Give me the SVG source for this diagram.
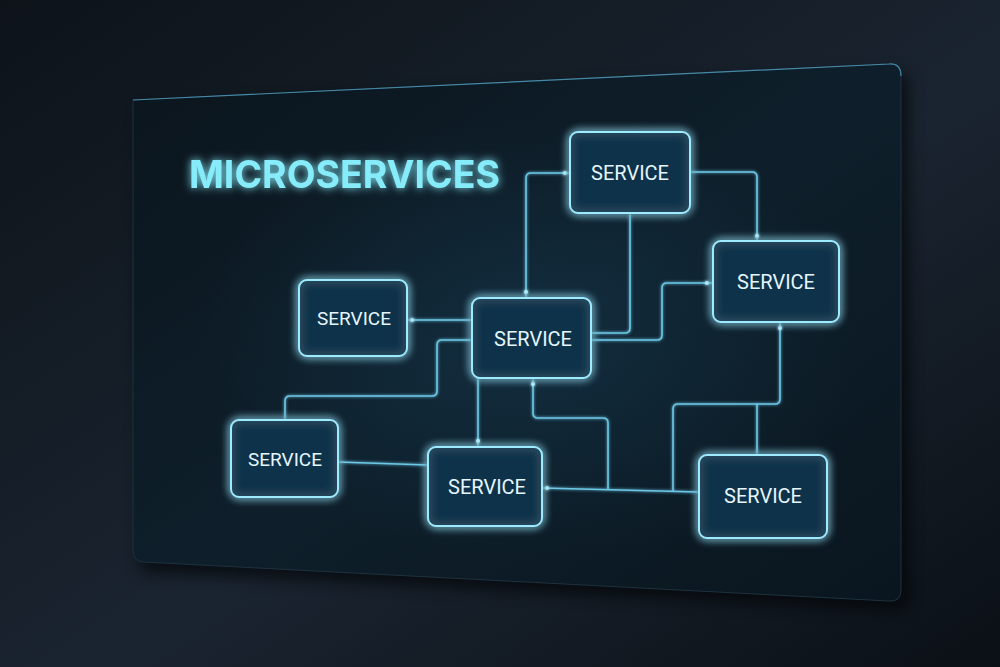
<svg xmlns="http://www.w3.org/2000/svg" width="1000" height="667" viewBox="0 0 1000 667">
  <defs>
    <linearGradient id="bg" x1="0" y1="0" x2="1" y2="1">
      <stop offset="0" stop-color="#0d1319"/>
      <stop offset="0.55" stop-color="#1a2430"/>
      <stop offset="1" stop-color="#0b1016"/>
    </linearGradient>
    <linearGradient id="panel" x1="0" y1="0" x2="1" y2="1">
      <stop offset="0" stop-color="#0b151d"/>
      <stop offset="0.5" stop-color="#0e1f2b"/>
      <stop offset="1" stop-color="#0a161f"/>
    </linearGradient>
    <radialGradient id="halo" cx="0.5" cy="0.5" r="0.5">
      <stop offset="0" stop-color="#1b4a66" stop-opacity="0.35"/>
      <stop offset="1" stop-color="#1b4a66" stop-opacity="0"/>
    </radialGradient>
    <filter id="glow" x="-30%" y="-30%" width="160%" height="160%">
      <feGaussianBlur in="SourceGraphic" stdDeviation="4" result="b"/>
      <feMerge><feMergeNode in="b"/><feMergeNode in="b"/><feMergeNode in="SourceGraphic"/></feMerge>
    </filter>
    <filter id="lglow" filterUnits="userSpaceOnUse" x="0" y="0" width="1000" height="667">
      <feGaussianBlur in="SourceGraphic" stdDeviation="1.5" result="b"/>
      <feMerge><feMergeNode in="b"/><feMergeNode in="SourceGraphic"/></feMerge>
    </filter>
    <filter id="tglow" x="-10%" y="-40%" width="120%" height="180%">
      <feGaussianBlur in="SourceGraphic" stdDeviation="4" result="b"/>
      <feMerge><feMergeNode in="b"/><feMergeNode in="SourceGraphic"/></feMerge>
    </filter>
    <filter id="shadow" x="-10%" y="-10%" width="130%" height="130%">
      <feGaussianBlur stdDeviation="8"/>
    </filter>
  </defs>
  <style>
    .node rect { fill: #11324a; fill-opacity: 0.85; stroke: #9eeaff; stroke-width: 2; filter: url(#glow); }
    .node text { font-family: Roboto, "Liberation Sans", sans-serif; font-size: 20px; fill: #e6f6ff; text-anchor: middle; dominant-baseline: central; }
    .conn path { fill: none; stroke: #6cc8e6; stroke-width: 1.6; stroke-linejoin: round; filter: url(#lglow); }
    .conn circle { fill: #b8f2ff; filter: url(#lglow); }
  </style>

  <rect width="1000" height="667" fill="url(#bg)"/>

  <!-- panel -->
  <g id="panel">
    <path d="M140 108 L893 72 Q908 72 908 86 L908 596 Q908 610 894 609 L146 572 Q140 571 140 560 Z" fill="#000" opacity="0.6" filter="url(#shadow)"/>
    <path d="M133 100 L889 64 Q901 63 901 76 L901 590 Q901 602 889 601 L143 562 Q133 561 133 551 Z" fill="url(#panel)" stroke="#1d3240" stroke-width="1"/>
    <path d="M133 100 L889 64 Q901 63 901 76" fill="none" stroke="#4f9fc0" stroke-width="1.2" opacity="0.8"/>
    <ellipse cx="530" cy="340" rx="330" ry="220" fill="url(#halo)"/>
  </g>

  <g id="title">
    <text x="189" y="188" font-family="Inter, 'Liberation Sans', sans-serif" font-weight="700" font-size="38" fill="#86ecfa" filter="url(#tglow)" textLength="311" lengthAdjust="spacingAndGlyphs">MICROSERVICES</text>
  </g>

  <g id="connectors" class="conn">
    <path d="M570 173 L531 173 Q526 173 526 178 L526 298"/>
    <path d="M630 213 L630 328 Q630 333 625 333 L591 333"/>
    <path d="M690 172 L752 172 Q757 172 757 177 L757 241"/>
    <path d="M591 340 L657 340 Q662 340 662 335 L662 288 Q662 283 667 283 L713 283"/>
    <path d="M407 320 L472 320"/>
    <path d="M472 340 L442 340 Q437 340 437 345 L437 391 Q437 396 432 396 L290 396 Q285 396 285 401 L285 420"/>
    <path d="M338 462 L428 465"/>
    <path d="M478 378 L478 447"/>
    <path d="M533 378 L533 413 Q533 418 538 418 L603 418 Q608 418 608 423 L608 489"/>
    <path d="M542 488 L699 492"/>
    <path d="M780 322 L780 399 Q780 404 775 404 L678 404 Q673 404 673 409 L673 491"/>
    <path d="M757 404 L757 455"/>
    <circle cx="565" cy="173" r="2"/>
    <circle cx="526" cy="292" r="2"/>
    <circle cx="757" cy="236" r="2"/>
    <circle cx="707" cy="283" r="2"/>
    <circle cx="412" cy="320" r="2"/>
    <circle cx="533" cy="384" r="2"/>
    <circle cx="478" cy="441" r="2"/>
    <circle cx="780" cy="328" r="2"/>
    <circle cx="547" cy="488" r="2"/>
  </g>

  <g id="node-top" class="node">
    <rect x="570" y="132" width="120" height="81" rx="8"/>
    <text x="630" y="173">SERVICE</text>
  </g>
  <g id="node-right" class="node">
    <rect x="713" y="241" width="126" height="81" rx="8"/>
    <text x="776" y="282">SERVICE</text>
  </g>
  <g id="node-center" class="node">
    <rect x="472" y="298" width="119" height="80" rx="8"/>
    <text x="533" y="339">SERVICE</text>
  </g>
  <g id="node-left" class="node">
    <rect x="299" y="280" width="108" height="76" rx="8"/>
    <text x="354" y="318" style="font-size:19px">SERVICE</text>
  </g>
  <g id="node-bottom-left" class="node">
    <rect x="231" y="420" width="107" height="77" rx="8"/>
    <text x="285" y="459" style="font-size:19px">SERVICE</text>
  </g>
  <g id="node-bottom-middle" class="node">
    <rect x="428" y="447" width="114" height="79" rx="8"/>
    <text x="487" y="487">SERVICE</text>
  </g>
  <g id="node-bottom-right" class="node">
    <rect x="699" y="455" width="128" height="83" rx="8"/>
    <text x="763" y="496">SERVICE</text>
  </g>
</svg>
